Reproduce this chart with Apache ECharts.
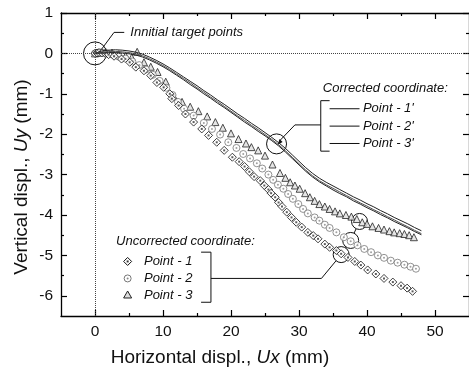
<!DOCTYPE html>
<html><head><meta charset="utf-8">
<script src="https://cdn.jsdelivr.net/npm/echarts@6/dist/echarts.min.js"></script>
<style>html,body{margin:0;padding:0;background:#fff}#c{width:469px;height:374px}</style>
</head><body><div id="c"></div>
<script>
// ---- tick labels ----
const xTickLabels = [0, 10, 20, 30, 40, 50];
const xMinorTicks = [5, 15, 25, 35, 45];
const yTickLabels = [-6, -5, -4, -3, -2, -1, 0, 1];
const yMinorTicks = [-5.5, -4.5, -3.5, -2.5, -1.5, -0.5, 0.5];

// ---- uncorrected coordinate: Point - 1 (diamonds) ----
const p1X = [0,0.3,0.6,1.0,1.5,2.0,2.8,3.9,5.1,6.0,7.2,8.2,9.1,10.1,11.0,11.3,12.3,13.3,14.5,15.7,16.7,17.9,19.0,20.2,21.2,22.0,22.7,23.4,24.3,24.9,25.5,25.9,26.5,27.0,27.5,28.2,28.9,29.6,30.4,31.3,32.1,32.8,33.8,34.5,35.5,36.2,37.2,38.2,39.1,40.1,41.3,42.5,43.8,45.0,45.9,46.7];
const p1Y = [0,0.01,0.02,0.01,0,-0.03,-0.07,-0.14,-0.22,-0.34,-0.43,-0.55,-0.72,-0.84,-1.0,-1.12,-1.29,-1.5,-1.7,-1.87,-2.03,-2.2,-2.4,-2.57,-2.68,-2.8,-2.93,-3.05,-3.15,-3.27,-3.37,-3.46,-3.56,-3.69,-3.79,-3.93,-4.06,-4.18,-4.3,-4.43,-4.51,-4.59,-4.72,-4.8,-4.88,-4.96,-5.05,-5.15,-5.24,-5.36,-5.46,-5.57,-5.66,-5.75,-5.81,-5.89];

// ---- Point - 2 (circles) ----
const p2X = [0,0.5,1.1,1.8,2.6,3.5,4.5,5.5,6.5,7.5,8.5,9.5,10.5,11.4,12.2,13.1,14.5,16.0,17.2,18.4,19.6,20.8,21.8,22.8,23.8,24.6,25.5,26.2,26.9,27.7,28.4,29.1,29.9,30.6,31.3,32.3,33.0,33.8,34.5,35.5,36.6,37.6,38.6,39.6,40.6,41.6,42.5,43.5,44.5,45.5,46.4,47.2];
const p2Y = [0,0.02,0.02,0,-0.03,-0.08,-0.13,-0.2,-0.29,-0.4,-0.53,-0.68,-0.85,-1.03,-1.2,-1.37,-1.54,-1.72,-1.87,-2.01,-2.2,-2.34,-2.49,-2.6,-2.72,-2.85,-3.0,-3.13,-3.25,-3.35,-3.48,-3.6,-3.73,-3.85,-3.96,-4.06,-4.14,-4.24,-4.32,-4.43,-4.55,-4.65,-4.75,-4.84,-4.92,-5.0,-5.06,-5.13,-5.18,-5.23,-5.28,-5.33];

// ---- Point - 3 (triangles) ----
const p3X = [0,0.4,0.9,1.6,2.5,3.5,4.5,5.4,6.2,7.2,8.2,9.2,10.4,11.6,12.8,14.0,15.2,16.5,17.7,18.8,20.0,21.1,22.2,23.0,24.0,25.0,26.1,27.2,28.0,28.7,29.4,30.1,30.9,31.6,32.3,33.0,33.8,34.5,35.3,36.0,36.9,37.7,38.5,39.3,40.0,40.8,41.7,42.5,43.3,44.0,44.8,45.5,46.2,46.9];
const p3Y = [0,0.02,0.03,0.03,0.02,-0.02,-0.06,-0.1,0.04,-0.22,-0.33,-0.46,-0.7,-1.07,-1.2,-1.32,-1.43,-1.56,-1.7,-1.84,-1.98,-2.12,-2.23,-2.32,-2.4,-2.53,-2.75,-2.96,-3.08,-3.19,-3.27,-3.35,-3.46,-3.56,-3.65,-3.73,-3.79,-3.85,-3.91,-3.96,-4.0,-4.04,-4.1,-4.18,-4.22,-4.28,-4.32,-4.36,-4.4,-4.43,-4.45,-4.47,-4.5,-4.55];

// ---- corrected coordinate: Point - 1', 2', 3' (lines) ----
const cX = [0,1,2,3,4,5,6,7,8,9,10,11,12,13,14,15,16,17,18,19,20,21,22,23,24,25,26,27,28,29,30,31,32,33,34,35,36,37,38,39,40,41,42,43,44,45,46,47,48];
const c1Y = [0,0.06,0.08,0.09,0.08,0.06,0.03,-0.02,-0.09,-0.17,-0.26,-0.36,-0.47,-0.58,-0.69,-0.8,-0.92,-1.03,-1.15,-1.26,-1.38,-1.5,-1.61,-1.73,-1.84,-1.96,-2.08,-2.21,-2.35,-2.51,-2.67,-2.83,-2.97,-3.09,-3.19,-3.28,-3.37,-3.46,-3.55,-3.63,-3.72,-3.8,-3.89,-3.97,-4.06,-4.14,-4.22,-4.31,-4.39];
const c2Y = [0,0.03,0.05,0.05,0.04,0.02,-0.01,-0.06,-0.13,-0.21,-0.3,-0.4,-0.51,-0.62,-0.73,-0.85,-0.96,-1.08,-1.19,-1.31,-1.43,-1.55,-1.66,-1.78,-1.89,-2.01,-2.13,-2.26,-2.41,-2.57,-2.73,-2.89,-3.03,-3.15,-3.25,-3.34,-3.43,-3.52,-3.61,-3.7,-3.78,-3.87,-3.95,-4.04,-4.12,-4.21,-4.29,-4.38,-4.46];
const c3Y = [0,0.01,0.02,0.02,0.01,-0.01,-0.04,-0.09,-0.16,-0.24,-0.33,-0.43,-0.54,-0.65,-0.77,-0.88,-1.0,-1.11,-1.23,-1.34,-1.46,-1.58,-1.7,-1.81,-1.93,-2.04,-2.16,-2.29,-2.44,-2.6,-2.76,-2.92,-3.06,-3.18,-3.28,-3.38,-3.47,-3.55,-3.65,-3.73,-3.82,-3.9,-3.99,-4.07,-4.16,-4.24,-4.32,-4.41,-4.49];

const F = '"Liberation Sans", Arial, sans-serif';
const zip = (xs, ys) => xs.map((x, i) => [x, ys[i]]);

function xAx(pos, vals, len, line, labels) {
  return {type:'value', position:pos, min:-5, max:55, splitLine:{show:false},
    axisLine:{show:line, onZero:false, lineStyle:{color:'#000', width:1.3}},
    axisTick:{show:true, inside:true, length:len, customValues:vals, lineStyle:{color:'#000', width:1.2}},
    axisLabel:labels ? {customValues:vals, fontSize:15.5, color:'#111', margin:8, fontFamily:F} : {show:false}};
}
function yAx(pos, vals, len, line, labels) {
  return {type:'value', position:pos, min:-6.5, max:1, splitLine:{show:false},
    axisLine:{show:line, onZero:false, lineStyle:{color:'#000', width:1.3}},
    axisTick:{show:true, inside:true, length:len, customValues:vals, lineStyle:{color:'#000', width:1.2}},
    axisLabel:labels ? {customValues:vals, fontSize:15.5, color:'#111', margin:8, fontFamily:F} : {show:false}};
}

const chart = echarts.init(document.getElementById('c'));
const option = {
  animation:false,
  backgroundColor:'#fff',
  grid:{left:61, top:13, width:410, height:303, containLabel:false},
  xAxis:[xAx('bottom', xTickLabels, 6, true, true), xAx('bottom', xMinorTicks, 3, false, false),
         xAx('top', xTickLabels, 6, true, false), xAx('top', xMinorTicks, 3, false, false)],
  yAxis:[yAx('left', yTickLabels, 6, true, true), yAx('left', yMinorTicks, 3, false, false),
         yAx('right', yTickLabels, 6, true, false), yAx('right', yMinorTicks, 3, false, false)],
  series:[
    {name:'Point - 3', type:'scatter', data:zip(p3X, p3Y), symbol:'triangle', symbolSize:7,
     itemStyle:{color:'#dedede', borderColor:'#222', borderWidth:1}, silent:true,
     markLine:{silent:true, symbol:['none','none'], label:{show:false},
       lineStyle:{type:'dotted', color:'#444', width:1}, data:[{xAxis:0},{yAxis:0}]}},
    {name:'Point - 2', type:'scatter', data:zip(p2X, p2Y), symbol:'circle', symbolSize:7,
     itemStyle:{color:'#fff', borderColor:'#777', borderWidth:1}, silent:true},
    {name:'Point - 2 dot', type:'scatter', data:zip(p2X, p2Y), symbol:'circle', symbolSize:2,
     itemStyle:{color:'#888'}, silent:true},
    {name:'Point - 1', type:'scatter', data:zip(p1X, p1Y), symbol:'diamond', symbolSize:8,
     itemStyle:{color:'#fff', borderColor:'#111', borderWidth:1}, silent:true},
    {name:'Point - 1 dot', type:'scatter', data:zip(p1X, p1Y), symbol:'rect', symbolSize:2,
     itemStyle:{color:'#333'}, silent:true},
    {name:"Point - 1'", type:'line', data:zip(cX, c1Y), symbol:'none', lineStyle:{color:'#222', width:1}, silent:true},
    {name:"Point - 2'", type:'line', data:zip(cX, c2Y), symbol:'none', lineStyle:{color:'#555', width:1}, silent:true},
    {name:"Point - 3'", type:'line', data:zip(cX, c3Y), symbol:'none', lineStyle:{color:'#222', width:1}, silent:true}
  ]
};
chart.setOption(option);

// ---- annotations (positioned in data units, converted through the axes) ----
const P = (x, y) => chart.convertToPixel({seriesIndex:0}, [x, y]);
const S = {stroke:'#111', lineWidth:1, fill:null};
const g = [];
function line(a, b) { g.push({type:'line', silent:true, shape:{x1:a[0], y1:a[1], x2:b[0], y2:b[1]}, style:S}); }
function poly(pts) { g.push({type:'polyline', silent:true, shape:{points:pts}, style:S}); }
function circ(c, r) { g.push({type:'circle', silent:true, shape:{cx:c[0], cy:c[1], r:r}, style:{stroke:'#111', lineWidth:1, fill:null}}); }
function txt(p, s, size, align) { g.push({type:'text', silent:true, x:p[0], y:p[1],
  style:{text:s, fontSize:size, fontStyle:'italic', fontFamily:F, fill:'#111', align:align || 'left', verticalAlign:'middle'}}); }
function seg(a, b, ra, rb) {
  const dx = b[0]-a[0], dy = b[1]-a[1], d = Math.hypot(dx, dy);
  line([a[0]+dx/d*ra, a[1]+dy/d*ra], [b[0]-dx/d*rb, b[1]-dy/d*rb]);
}

// initial target points
const o = P(0, 0);
circ(o, 11.5);
poly([P(0.6, 0.02), P(2.8, 0.52), P(4.3, 0.52)]);
txt(P(5.2, 0.52), 'Innitial target points', 13);

// corrected callout
const cc = P(26.7, -2.24);
circ(cc, 10);
const knee = P(29.4, -1.77);
line([cc[0]+3, cc[1]-3], knee);
g.push({type:'polygon', silent:true, shape:{points:[[cc[0]+1, cc[1]+1],[cc[0]+6, cc[1]-2],[cc[0]+3, cc[1]-5]]}, style:{fill:'#111'}});
line(knee, P(33.2, -1.77));
poly([P(34.5, -1.17), P(33.2, -1.17), P(33.2, -2.42), P(34.5, -2.42)]);
txt(P(33.5, -0.87), 'Corrected coordinate:', 13);
const legY = [-1.37, -1.8, -2.23];
const legT = ["Point - 1'", "Point - 2'", "Point - 3'"];
legY.forEach((y, i) => { line(P(34.5, y), P(38.9, y)); txt(P(39.4, y), legT[i], 13); });

// uncorrected legend
txt(P(3.1, -4.65), 'Uncorrected coordinate:', 13);
const uY = [-5.15, -5.57, -5.98];
const uT = ['Point - 1', 'Point - 2', 'Point - 3'];
uY.forEach((y, i) => {
  const m = P(4.8, y);
  if (i === 0) {
    g.push({type:'polygon', silent:true, shape:{points:[[m[0], m[1]-4],[m[0]+4, m[1]],[m[0], m[1]+4],[m[0]-4, m[1]]]}, style:{fill:'#fff', stroke:'#111', lineWidth:1}});
    g.push({type:'rect', silent:true, shape:{x:m[0]-1, y:m[1]-1, width:2, height:2}, style:{fill:'#333'}});
  } else if (i === 1) {
    g.push({type:'circle', silent:true, shape:{cx:m[0], cy:m[1], r:3.5}, style:{fill:'#fff', stroke:'#777', lineWidth:1}});
    g.push({type:'circle', silent:true, shape:{cx:m[0], cy:m[1], r:1}, style:{fill:'#888'}});
  } else {
    g.push({type:'polygon', silent:true, shape:{points:[[m[0], m[1]-4],[m[0]+4, m[1]+3],[m[0]-4, m[1]+3]]}, style:{fill:'#dedede', stroke:'#222', lineWidth:1}});
  }
  txt(P(7.2, y), uT[i], 13);
});
poly([P(15.6, -4.92), P(17.05, -4.92), P(17.05, -6.16), P(15.6, -6.16)]);
const uk = P(33.3, -5.57);
line(P(17.05, -5.57), uk);
const d1 = P(36.2, -4.98), d2 = P(37.6, -4.63), d3 = P(38.9, -4.16);
circ(d1, 8); circ(d2, 8); circ(d3, 8);
seg(uk, d1, 0, 8); seg(d1, d2, 8, 8); seg(d2, d3, 8, 8);

// axis titles
g.push({type:'text', silent:true, x:220, y:358, style:{text:'Horizontal displ., {i|Ux} (mm)', fontSize:19, fontFamily:F, fill:'#111', align:'center', verticalAlign:'middle',
  rich:{i:{fontStyle:'italic', fontSize:19, fontFamily:F, fill:'#111'}}}});
g.push({type:'text', silent:true, x:22, y:177, rotation:Math.PI/2, style:{text:'Vertical displ., {i|Uy} (mm)', fontSize:19, fontFamily:F, fill:'#111', align:'center', verticalAlign:'middle',
  rich:{i:{fontStyle:'italic', fontSize:19, fontFamily:F, fill:'#111'}}}});

chart.setOption({graphic:g});
</script></body></html>
